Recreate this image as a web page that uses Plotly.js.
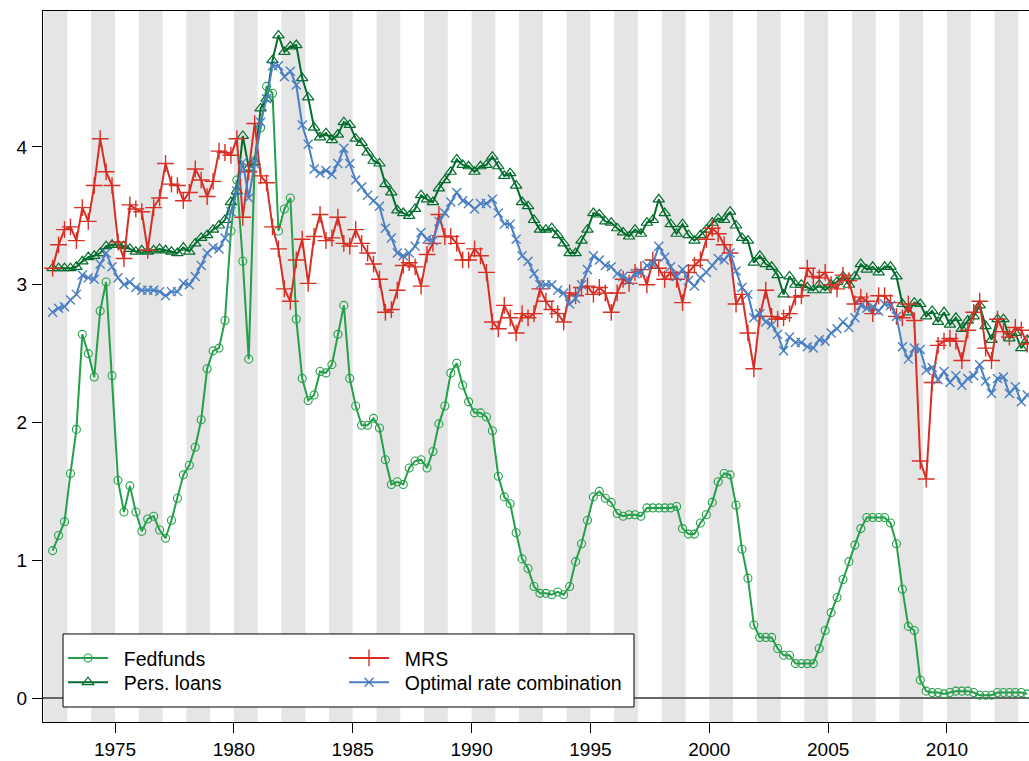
<!DOCTYPE html>
<html><head><meta charset="utf-8">
<script src="https://cdn.plot.ly/plotly-3.0.1.min.js"></script>
<style>html,body{margin:0;padding:0;background:#fff;overflow:hidden}#chart{width:1029px;height:761px}</style>
</head><body><div id="chart"></div>
<script>
// quarterly observations, first one is 1972 Q2 (plotted mid-quarter)
const firstQuarterTime = 1972.375;
const quarterStep = 0.25;

const fedfunds = [
1.07,1.18,1.28,1.63,1.95,2.64,2.50,2.33,2.81,3.02,
2.34,1.58,1.35,1.54,1.35,1.21,1.30,1.32,1.22,1.16,
1.29,1.45,1.62,1.69,1.82,2.02,2.39,2.52,2.54,2.74,
3.39,3.76,3.17,2.46,3.90,4.14,4.44,4.39,3.39,3.55,
3.63,2.75,2.32,2.16,2.20,2.37,2.36,2.42,2.64,2.85,
2.32,2.12,1.98,1.98,2.03,1.96,1.73,1.55,1.57,1.55,
1.67,1.72,1.73,1.67,1.79,1.99,2.12,2.36,2.43,2.27,
2.15,2.07,2.07,2.04,1.94,1.61,1.46,1.41,1.20,1.01,
0.94,0.81,0.76,0.76,0.75,0.77,0.75,0.81,0.99,1.12,
1.29,1.46,1.50,1.45,1.42,1.34,1.32,1.33,1.33,1.32,
1.38,1.38,1.38,1.38,1.38,1.39,1.23,1.19,1.19,1.27,
1.33,1.42,1.57,1.63,1.62,1.40,1.08,0.87,0.53,0.44,
0.44,0.44,0.36,0.31,0.31,0.25,0.25,0.25,0.25,0.36,
0.49,0.62,0.73,0.86,0.99,1.11,1.23,1.31,1.31,1.31,
1.31,1.27,1.12,0.79,0.52,0.49,0.13,0.05,0.04,0.04,
0.03,0.04,0.05,0.05,0.05,0.04,0.02,0.02,0.02,0.04,
0.04,0.04,0.04,0.04,0.03];

const persLoans = [
3.12,3.12,3.12,3.12,3.13,3.17,3.20,3.21,3.23,3.28,
3.29,3.29,3.28,3.26,3.24,3.25,3.24,3.25,3.26,3.25,
3.24,3.23,3.27,3.24,3.30,3.34,3.36,3.40,3.43,3.47,
3.60,3.68,4.08,3.85,3.89,4.28,4.35,4.63,4.81,4.69,
4.73,4.74,4.50,4.36,4.14,4.07,4.10,4.05,4.09,4.18,
4.16,4.06,4.03,3.96,3.90,3.88,3.73,3.67,3.54,3.52,
3.50,3.55,3.65,3.62,3.60,3.70,3.76,3.82,3.91,3.87,
3.86,3.82,3.86,3.87,3.93,3.86,3.79,3.81,3.72,3.60,
3.57,3.47,3.40,3.40,3.41,3.36,3.30,3.23,3.23,3.32,
3.40,3.52,3.51,3.46,3.45,3.41,3.38,3.35,3.40,3.37,
3.45,3.47,3.62,3.52,3.44,3.37,3.44,3.36,3.32,3.36,
3.40,3.45,3.48,3.47,3.53,3.43,3.34,3.32,3.16,3.21,
3.15,3.13,3.07,2.93,3.06,3.00,3.00,2.98,2.96,3.00,
2.96,3.00,3.02,3.06,3.00,3.06,3.15,3.11,3.13,3.09,
3.13,3.13,3.06,2.86,2.80,2.87,2.86,2.77,2.81,2.73,
2.80,2.71,2.76,2.68,2.74,2.77,2.85,2.70,2.60,2.75,
2.75,2.61,2.65,2.54,2.60];

const mrs = [
3.12,3.29,3.40,3.42,3.32,3.56,3.46,3.72,4.06,3.82,
3.72,3.31,3.19,3.58,3.55,3.53,3.25,3.56,3.63,3.88,
3.73,3.72,3.61,3.67,3.84,3.76,3.64,3.75,3.97,3.96,
3.94,4.06,3.49,3.82,4.17,3.79,3.74,3.42,3.26,2.97,
2.88,3.18,3.33,3.01,3.35,3.51,3.32,3.34,3.49,3.30,
3.28,3.40,3.30,3.23,3.15,3.04,2.80,2.82,2.96,3.14,
3.16,3.13,2.99,3.22,3.30,3.51,3.35,3.35,3.30,3.18,
3.18,3.26,3.21,3.09,2.73,2.68,2.85,2.76,2.65,2.79,
2.76,2.79,2.97,2.88,2.82,2.79,2.73,2.94,2.92,2.98,
2.99,2.93,2.98,2.94,2.80,2.94,3.04,3.01,3.09,3.11,
3.00,3.18,3.12,3.04,3.09,3.04,2.87,3.09,3.14,3.18,
3.33,3.41,3.37,3.29,3.23,2.86,2.93,2.65,2.39,2.77,
2.96,2.77,2.75,2.76,2.79,2.91,2.92,3.12,3.06,3.05,
3.09,3.00,2.97,3.07,3.03,2.86,2.91,2.88,2.79,2.92,
2.92,2.87,2.77,2.76,2.86,2.74,1.72,1.59,2.29,2.56,
2.59,2.61,2.59,2.45,2.67,2.80,2.88,2.54,2.45,2.75,
2.66,2.62,2.69,2.67,2.57];

const optimalRate = [
2.80,2.83,2.84,2.89,2.93,3.07,3.05,3.04,3.15,3.23,
3.13,3.05,3.00,3.02,2.98,2.96,2.96,2.96,2.95,2.92,
2.95,2.95,3.01,3.00,3.06,3.14,3.23,3.27,3.26,3.34,
3.53,3.68,3.89,3.63,3.88,4.18,4.35,4.59,4.59,4.51,
4.55,4.45,4.16,4.02,3.84,3.81,3.83,3.80,3.88,3.99,
3.88,3.76,3.71,3.65,3.61,3.57,3.41,3.34,3.23,3.21,
3.23,3.28,3.38,3.33,3.32,3.46,3.52,3.60,3.67,3.61,
3.59,3.55,3.59,3.59,3.62,3.52,3.44,3.44,3.33,3.21,
3.17,3.08,3.00,3.00,3.00,2.96,2.94,2.86,2.90,3.00,
3.11,3.21,3.18,3.14,3.13,3.08,3.06,3.03,3.08,3.09,
3.14,3.15,3.28,3.20,3.13,3.06,3.11,3.03,2.99,3.05,
3.09,3.14,3.19,3.18,3.23,3.10,2.98,2.93,2.76,2.79,
2.73,2.71,2.64,2.52,2.62,2.58,2.58,2.55,2.54,2.60,
2.59,2.65,2.68,2.73,2.69,2.76,2.85,2.83,2.84,2.81,
2.86,2.85,2.77,2.55,2.46,2.54,2.53,2.38,2.40,2.31,
2.37,2.29,2.34,2.27,2.32,2.34,2.42,2.30,2.21,2.32,
2.33,2.21,2.26,2.15,2.20];

const seriesNames = ['Fedfunds', 'Pers. loans', 'MRS', 'Optimal rate combination'];
const xTickVals = [1975, 1980, 1985, 1990, 1995, 2000, 2005, 2010];
const xTickText = ['1975', '1980', '1985', '1990', '1995', '2000', '2005', '2010'];
const yTickVals = [0, 1, 2, 3, 4];
const yTickText = ['0', '1', '2', '3', '4'];
const shadedYears = [1972,1974,1976,1978,1980,1982,1984,1986,1988,1990,1992,1994,1996,1998,2000,2002,2004,2006,2008,2010,2012];

const dates = fedfunds.map((_, i) => firstQuarterTime + i * quarterStep);
const FONT = 'Liberation Sans, Arial, Helvetica, sans-serif';

function makeTrace(name, y, color, symbol, size, legendId, mlw) {
  return {
    type: 'scatter', mode: 'lines+markers', x: dates, y: y,
    name: '\u00a0\u00a0' + name, legend: legendId,
    line: {color: color, width: 2},
    marker: {symbol: symbol, size: size, color: color, line: {color: color, width: mlw}},
    hoverinfo: 'skip'
  };
}

const traces = [
  makeTrace(seriesNames[0], fedfunds, '#23a049', 'circle-open', 8, 'legend', 1.1),
  makeTrace(seriesNames[1], persLoans, '#006d2c', 'triangle-up-open', 10, 'legend2', 1.2),
  makeTrace(seriesNames[2], mrs, '#d92e23', 'cross-thin-open', 12, 'legend3', 1.4),
  makeTrace(seriesNames[3], optimalRate, '#4a7fc1', 'x-thin-open', 9, 'legend4', 1.4)
];

const shapes = shadedYears.map(yr => ({
  type: 'rect', xref: 'x', yref: 'paper', x0: yr, x1: yr + 1, y0: 0, y1: 1,
  fillcolor: '#e5e5e5', line: {width: 0}, layer: 'below'
}));
shapes.push({
  type: 'rect', xref: 'paper', yref: 'paper', x0: 0.0203, x1: 0.5994, y0: 0.0211, y1: 0.1238,
  fillcolor: '#ffffff', line: {color: '#000', width: 1}, layer: 'above'
});

const legBase = {
  bgcolor: 'rgba(0,0,0,0)', borderwidth: 0, xref: 'paper', yref: 'paper',
  xanchor: 'left', yanchor: 'middle', orientation: 'v', itemwidth: 40,
  font: {family: FONT, size: 19.5, color: '#000'}
};

const layout = {
  width: 1029, height: 761,
  margin: {l: 43, r: 0, t: 11, b: 39, autoexpand: false},
  paper_bgcolor: '#fff', plot_bgcolor: '#fff',
  font: {family: FONT, color: '#000'},
  showlegend: true,
  legend: Object.assign({}, legBase, {x: 0.0203, y: 0.0896}),
  legend2: Object.assign({}, legBase, {x: 0.0203, y: 0.0556}),
  legend3: Object.assign({}, legBase, {x: 0.3053, y: 0.0896}),
  legend4: Object.assign({}, legBase, {x: 0.3053, y: 0.0556}),
  xaxis: {
    range: [1971.97, 2013.45], tickmode: 'array', tickvals: xTickVals, ticktext: xTickText,
    ticks: 'outside', ticklen: 10, tickwidth: 1, tickcolor: '#000',
    showline: true, linecolor: '#000', linewidth: 1, mirror: true,
    showgrid: false, zeroline: false, ticklabelstandoff: 0,
    tickfont: {family: FONT, size: 19, color: '#000'}
  },
  yaxis: {
    range: [-0.174, 4.987], tickmode: 'array', tickvals: yTickVals, ticktext: yTickText,
    ticks: 'outside', ticklen: 10, tickwidth: 1, tickcolor: '#000',
    showline: true, linecolor: '#000', linewidth: 1, mirror: false,
    showgrid: false, zeroline: true, zerolinecolor: '#666', zerolinewidth: 1.5,
    ticklabelstandoff: 1,
    tickfont: {family: FONT, size: 19, color: '#000'}
  },
  shapes: shapes
};

Plotly.newPlot('chart', traces, layout, {staticPlot: true, displayModeBar: false});
</script></body></html>
